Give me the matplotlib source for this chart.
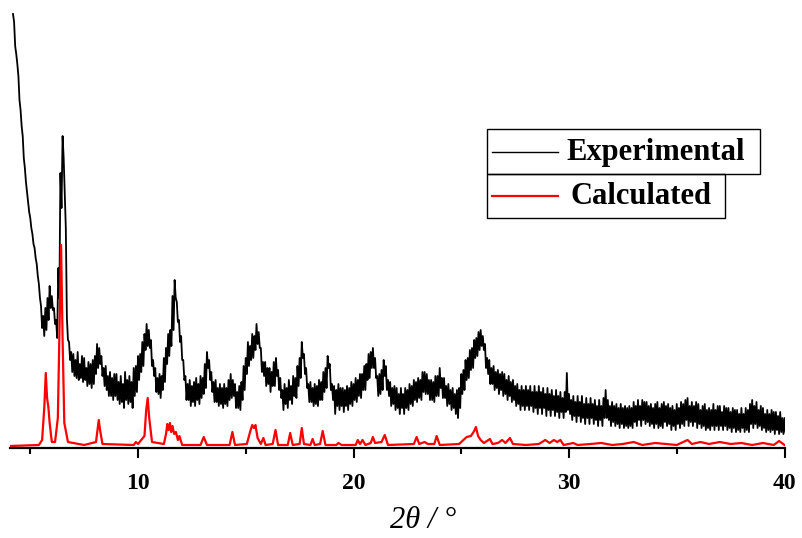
import numpy as np
import matplotlib
matplotlib.use('Agg')
import matplotlib.pyplot as plt
from matplotlib.lines import Line2D
from matplotlib.patches import Rectangle

# experimental pattern: upper and lower edge of the noisy trace,
# read every 0.1 deg from 4.2 to 40.0 (intensity, a.u.)
exp_start = 4.2
exp_step = 0.1
exp_hi = [
    434, 402, 384, 348, 322, 290, 266, 246,
    230, 214, 200, 184, 164, 142, 132, 140, 150, 162,
    152, 140, 128, 180, 275, 312, 255, 130, 106, 96,
    94, 88, 96, 84, 92, 90, 80, 86, 84, 88,
    92, 104, 100, 92, 80, 82, 72, 76, 70, 74,
    74, 66, 72, 64, 76, 68, 72, 66, 80, 82,
    92, 94, 106, 114, 124, 118, 108, 88, 80, 70,
    74, 72, 90, 100, 114, 118, 152, 168, 146, 128,
    112, 88, 72, 64, 68, 62, 66, 70, 64, 72,
    70, 84, 96, 88, 76, 66, 68, 60, 64, 60,
    64, 60, 68, 74, 68, 64, 56, 62, 66, 82,
    90, 106, 102, 114, 112, 124, 116, 100, 86, 86,
    80, 80, 76, 86, 90, 78, 70, 58, 64, 60,
    68, 62, 72, 70, 82, 90, 106, 94, 80, 64,
    66, 60, 64, 62, 68, 66, 76, 80, 92, 84,
    64, 62, 58, 64, 60, 60, 58, 62, 60, 66,
    64, 70, 68, 74, 74, 82, 84, 94, 96, 100,
    90, 72, 74, 78, 88, 82, 68, 66, 60, 62,
    60, 54, 60, 54, 60, 58, 64, 62, 68, 66,
    70, 68, 76, 76, 74, 68, 68, 66, 72, 72,
    80, 70, 70, 62, 64, 58, 60, 54, 58, 60,
    74, 78, 88, 90, 98, 100, 108, 110, 116, 118,
    112, 104, 90, 88, 80, 82, 76, 78, 74, 76,
    74, 68, 72, 66, 68, 62, 64, 58, 62, 58,
    62, 58, 62, 56, 62, 56, 62, 56, 60, 54,
    60, 54, 58, 52, 58, 52, 56, 50, 56, 75,
    54, 48, 52, 46, 52, 46, 52, 44, 50, 44,
    50, 44, 48, 42, 48, 42, 50, 58, 48, 42,
    46, 42, 44, 40, 44, 40, 42, 40, 42, 40,
    46, 42, 48, 42, 48, 46, 46, 42, 44, 40,
    44, 46, 40, 44, 46, 42, 44, 40, 42, 38,
    44, 40, 46, 44, 48, 50, 42, 46, 42, 46,
    44, 38, 42, 44, 38, 40, 38, 44, 38, 42,
    42, 36, 42, 40, 40, 36, 40, 38, 38, 34,
    40, 34, 40, 38, 44, 48, 42, 46, 38, 42,
    40, 34, 38, 34, 38, 36, 36, 32, 36, 30,
    30,
]
exp_lo = [
    426, 394, 372, 338, 312, 280, 256, 236,
    220, 204, 190, 172, 150, 120, 112, 118, 128, 140,
    138, 124, 110, 150, 240, 290, 220, 108, 88, 76,
    72, 70, 68, 70, 66, 68, 62, 64, 60, 64,
    74, 80, 84, 72, 62, 58, 52, 52, 48, 52,
    48, 44, 46, 40, 48, 44, 46, 40, 52, 56,
    68, 76, 82, 98, 102, 100, 82, 72, 56, 54,
    50, 58, 66, 84, 92, 102, 118, 150, 126, 106,
    88, 68, 48, 48, 42, 46, 42, 48, 44, 50,
    54, 60, 80, 68, 56, 46, 46, 42, 44, 40,
    44, 42, 48, 50, 52, 40, 40, 38, 48, 58,
    74, 82, 88, 90, 98, 104, 100, 76, 72, 62,
    64, 56, 62, 62, 72, 58, 50, 38, 44, 40,
    48, 44, 52, 50, 62, 70, 90, 74, 60, 46,
    46, 42, 44, 42, 48, 48, 56, 60, 80, 58,
    48, 34, 42, 38, 42, 36, 42, 38, 44, 42,
    48, 46, 52, 50, 58, 58, 68, 70, 80, 80,
    70, 52, 54, 58, 72, 58, 52, 42, 44, 38,
    40, 34, 40, 34, 40, 38, 44, 42, 48, 46,
    50, 48, 56, 54, 54, 48, 48, 46, 52, 52,
    60, 50, 50, 42, 44, 38, 40, 34, 30, 40,
    54, 58, 68, 70, 78, 80, 90, 92, 98, 102,
    98, 80, 74, 64, 64, 58, 60, 54, 58, 52,
    54, 48, 52, 46, 48, 42, 44, 38, 42, 38,
    42, 38, 42, 36, 40, 34, 40, 34, 40, 32,
    38, 32, 38, 32, 36, 30, 36, 30, 36, 38,
    34, 28, 32, 26, 32, 26, 30, 24, 30, 24,
    30, 24, 28, 22, 28, 22, 30, 30, 28, 22,
    26, 22, 24, 20, 24, 20, 22, 20, 22, 20,
    26, 22, 28, 22, 28, 24, 26, 22, 24, 20,
    24, 20, 22, 20, 26, 22, 24, 18, 22, 18,
    24, 20, 24, 22, 28, 22, 26, 22, 26, 20,
    24, 20, 22, 18, 20, 18, 22, 18, 22, 18,
    22, 18, 22, 18, 20, 16, 20, 16, 18, 16,
    20, 16, 18, 16, 24, 20, 24, 20, 22, 18,
    20, 16, 18, 16, 18, 14, 18, 14, 16, 14,
    16,
]

# calculated pattern (2theta, intensity)
calc_x = [4.06, 5.4, 5.55, 5.65, 5.72, 5.78, 5.84, 5.9, 6.0, 6.15, 6.28, 6.36, 6.43, 6.5,
          6.58, 6.75, 7.5, 8.05, 8.13, 8.18, 8.24, 8.35, 9.8, 9.9, 10.0, 10.3, 10.38, 10.45,
          10.52, 10.65, 11.2, 11.3, 11.36, 11.42, 11.48, 11.54, 11.6, 11.68, 11.76, 11.85,
          11.92, 12.05, 12.9, 13.05, 13.2, 14.25, 14.38, 14.5, 15.05, 15.2, 15.3, 15.38,
          15.45, 15.55, 15.7, 15.82, 15.92, 16.25, 16.38, 16.5, 16.95, 17.06, 17.18, 17.5,
          17.6, 17.7, 18.0, 18.1, 18.2, 18.45, 18.57, 18.7, 19.2, 19.3, 19.45, 20.1, 20.2,
          20.3, 20.42, 20.55, 20.8, 20.9, 21.0, 21.3, 21.45, 21.6, 22.8, 22.93, 23.05, 23.3,
          23.45, 23.75, 23.86, 24.0, 24.9, 25.1, 25.25, 25.45, 25.6, 25.68, 25.78, 25.9,
          26.05, 26.33, 26.45, 26.7, 26.9, 27.05, 27.26, 27.4, 28.0, 28.6, 28.9, 29.1, 29.3,
          29.45, 29.6, 29.75, 30.2, 30.4, 31.0, 31.5, 32.0, 32.5, 33.0, 33.4, 34.0, 34.5,
          35.0, 35.5, 35.7, 36.1, 36.5, 37.0, 37.5, 38.0, 38.5, 39.0, 39.5, 39.75, 40.0]
calc_y = [2, 3, 8, 40, 75, 50, 41, 25, 6, 6, 30, 120, 203, 110,
          25, 6, 3, 6, 20, 28, 18, 4, 3, 6, 4, 12, 38, 50,
          30, 6, 4, 14, 24, 18, 25, 16, 22, 14, 16, 8,
          12, 3, 3, 11, 3, 3, 16, 3, 4, 16, 23, 20,
          23, 10, 4, 10, 3, 4, 18, 3, 3, 15, 3, 4,
          20, 4, 3, 9, 3, 4, 17, 3, 3, 5, 3, 3, 8,
          4, 8, 3, 5, 11, 5, 6, 13, 3, 4, 11, 4, 6,
          4, 4, 12, 3, 4, 8, 11, 12, 17, 21, 12, 8,
          5, 9, 4, 5, 8, 5, 10, 4, 3, 4, 8, 5, 8,
          6, 8, 3, 5, 3, 4, 5, 3, 4, 6, 3, 5, 4,
          3, 8, 4, 6, 4, 6, 4, 5, 3, 5, 3, 7, 3]

xticks = [10, 20, 30, 40]
labels = ['Experimental', 'Calculated']
colors = ['black', 'red']
widths = [1.3, 1.6]

# noisy trace: upper edge at each grid point, lower edge half a step later
exp_x = exp_start + exp_step * np.arange(len(exp_hi))
trace_x = np.column_stack([exp_x, exp_x + exp_step / 2]).ravel()
trace_y = np.column_stack([exp_hi, exp_lo]).ravel()

W, H = 802, 538
fig = plt.figure(figsize=(W / 100, H / 100), dpi=100)
ax = fig.add_axes([10 / W, 90 / H, 774.5 / W, 448 / H])

ax.plot(trace_x, trace_y, color=colors[0], lw=widths[0])
ax.plot(calc_x, calc_y, color=colors[1], lw=widths[1])

ax.set_xlim(4.06, 40)
ax.set_ylim(0, 448)
for s in ['left', 'top', 'right']:
    ax.spines[s].set_visible(False)
ax.spines['bottom'].set_linewidth(1.6)
ax.set_yticks([])
ax.set_xticks(xticks)
ax.set_xticks([5, 15, 25, 35], minor=True)
ax.tick_params(axis='x', which='major', direction='out', length=7, width=1.5, pad=11)
ax.tick_params(axis='x', which='minor', direction='out', length=4, width=1.5)
for t in ax.get_xticklabels():
    t.set_fontfamily('Liberation Serif')
    t.set_fontweight('bold')
    t.set_fontsize(17)

ax.set_xlabel('2θ / °', fontfamily='Liberation Serif', fontstyle='italic', fontsize=22)
ax.xaxis.set_label_coords((423 - 10) / 774.5, -58 / 448)


def px(x, y):
    return x / W, 1 - y / H


# two separate legend boxes (pixel layout from the reference)
boxes = [(487, 129, 760, 174), (487, 174, 725, 218)]
for i, (x0, y0, x1, y1) in enumerate(boxes):
    bx, by = px(x0, y1)
    fig.patches.append(Rectangle((bx, by), (x1 - x0) / W, (y1 - y0) / H,
                                 transform=fig.transFigure, fill=False,
                                 edgecolor='black', lw=1.0))
    yc = (y0 + y1) / 2
    lx0, ly = px(492, yc)
    lx1, _ = px(558, yc)
    fig.lines.append(Line2D([lx0, lx1], [ly, ly], transform=fig.transFigure,
                            color=colors[i], lw=1.0 if i == 0 else widths[i]))
    tx, ty = px(566 if i == 0 else 571, yc + 1)
    fig.text(tx, ty, labels[i], ha='left', va='center', fontfamily='Liberation Serif',
             fontweight='bold', fontsize=22)

fig.savefig('out.png', dpi=100)
